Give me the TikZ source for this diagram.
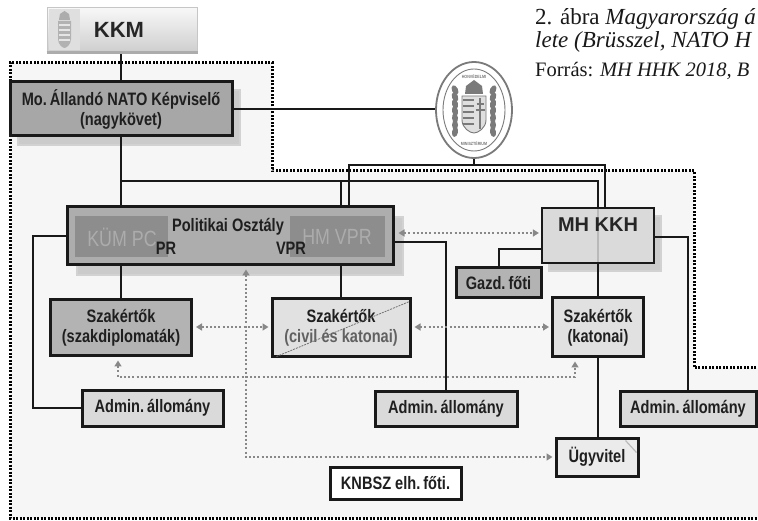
\documentclass[tikz,border=0pt]{standalone}
\usepackage{fontspec}
\setmainfont[FakeStretch=0.81]{Liberation Sans}
\newfontfamily\widesans{Liberation Sans}
\newfontfamily\capserif{Liberation Serif}
\usetikzlibrary{arrows.meta,calc,shapes.geometric}
\pgfdeclarelayer{back}
\pgfdeclarelayer{wires}
\pgfsetlayers{back,wires,main}
\definecolor{bgregion}{HTML}{F6F6F6}
\definecolor{mofill}{HTML}{A7A7A7}
\definecolor{polfill}{HTML}{ADADAD}
\definecolor{polsub}{HTML}{8D8D8D}
\definecolor{ghosttext}{HTML}{ACACAC}
\definecolor{darkfill}{HTML}{B3B3B3}
\definecolor{lightfill}{HTML}{E1E1E1}
\definecolor{adminfill}{HTML}{DADADA}
\definecolor{ugyfill}{HTML}{EBEBEB}
\definecolor{shadowfill}{HTML}{CBCBCB}
\definecolor{dotgray}{HTML}{888888}
\definecolor{sealgray}{HTML}{7A7A7A}
\tikzset{
  box/.style={draw=black!90, line width=3pt, inner sep=0pt, align=center,
    font=\bfseries\fontsize{18}{20}\selectfont, text=black!88},
  conn/.style={line width=2pt, draw=black!90},
  dotconn/.style={line width=2.4pt, draw=dotgray, dash pattern=on 2pt off 2.2pt},
  tipboth/.style={{Triangle[width=7pt,length=6pt,fill=dotgray]}-{Triangle[width=7pt,length=6pt,fill=dotgray]}},
  shadowbox/.style={fill=shadowfill, draw=gray!35, line width=1.5pt},
  regionline/.style={line width=3pt, draw=black, dash pattern=on 2pt off 1.5pt},
  ghost/.style={font=\fontsize{22}{22}\selectfont, text=ghosttext, inner sep=0pt},
  lbl/.style={font=\bfseries\fontsize{18}{20}\selectfont, text=black!88, inner sep=0pt},
  capt/.style={anchor=base west, inner sep=0pt, text=black!90},
  sealtext/.style={font=\bfseries\fontsize{4.5}{5}\selectfont, text=sealgray, inner sep=0pt},
}
\begin{document}
\begin{tikzpicture}[x=1pt,y=-1pt]
\useasboundingbox (0,0) rectangle (758,521);
\clip (0,0) rectangle (758,521);

\begin{pgfonlayer}{back}
\fill[white] (0,0) rectangle (758,521);
% region
\fill[bgregion] (10,63) -- (272,63) -- (272,171) -- (694,171) -- (694,368) -- (770,368) -- (770,518) -- (10,518) -- cycle;
\draw[regionline] (770,368) -- (694,368) -- (694,171) -- (272,171) -- (272,63) -- (10,63) -- (10,518) -- (770,518);
% shadows
\draw[shadowbox] (18,90) rectangle (240,145);
\draw[shadowbox] (77,217) rectangle (403,275);
\draw[shadowbox] (549,216) rectangle (661,271);
\end{pgfonlayer}

% KKM box
\node[draw=gray!45, line width=1pt, top color=gray!6, bottom color=gray!38, minimum width=150, minimum height=44, inner sep=0pt] (kkm) at (122,30) {};
\draw[gray!65, line width=2.5pt] (kkm.south west) -- (kkm.south east);
\fill[gray!25] (48.5,9.5) rectangle (80,50.5);
\fill[gray!60] (58,21) -- (71,21) -- (71,39) .. controls (71,45) and (66,48) .. (64.5,48) .. controls (63,48) and (58,45) .. (58,39) -- cycle;
\foreach \yy in {25,30,35,40} { \draw[white!80!gray, line width=1.5pt] (59,\yy) -- (70,\yy); }
\fill[gray!65] (59,20) -- (60,14) -- (64.5,11) -- (69,14) -- (70,20) -- cycle;
\node[font=\widesans\bfseries\fontsize{22}{22}\selectfont, text=black!85, inner sep=0pt] (kkmtext) at (119,30) {KKM};

% seal
\node[ellipse, draw=sealgray, line width=1.8pt, fill=white, minimum width=76, minimum height=96, inner sep=0pt] (seal) at (474,110) {};
\draw[sealgray, line width=0.9pt] (seal.center) ellipse [x radius=31, y radius=41];
\node[sealtext] (sealtop) at (474,77) {HONVÉDELMI};
\node[sealtext] (sealbot) at (474,144) {MINISZTÉRIUM};
\fill[sealgray] (465,94) -- (466,86) -- (470,83) -- (474,80) -- (478,83) -- (482,86) -- (483,94) -- cycle;
\fill[gray!25] (462,96) -- (486,96) -- (486,120) .. controls (486,128) and (478,133) .. (474,133) .. controls (470,133) and (462,128) .. (462,120) -- cycle;
\draw[sealgray, line width=0.9pt] (462,96) -- (486,96) -- (486,120) .. controls (486,128) and (478,133) .. (474,133) .. controls (470,133) and (462,128) .. (462,120) -- cycle;
\foreach \yy in {100,106,112,118,124} { \draw[sealgray, line width=2.4pt] (463,\yy) -- (473.5,\yy); }
\draw[sealgray, line width=2.2pt] (480,98) -- (480,129);
\draw[sealgray, line width=1.8pt] (476.5,104) -- (483.5,104) (475.5,110) -- (484.5,110);
\foreach \a/\yy in {25/90,20/97,15/104,10/111,5/118,0/125,-10/132} {
  \fill[sealgray, rotate around={\a:(455,\yy)}] (455,\yy) ellipse [x radius=3, y radius=5];
  \fill[sealgray, rotate around={-\a:(493,\yy)}] (493,\yy) ellipse [x radius=3, y radius=5];
}

% boxes
\node[box, fill=mofill, minimum width=222, minimum height=54] (mo) at (121,109) {Mo.\,Állandó NATO Képviselő\\(nagykövet)};
\node[box, line width=2.2pt, fill=adminfill, minimum width=112, minimum height=55] (mhkkh) at (598,235.5) {};
\node[box, fill=polfill, minimum width=326, minimum height=58] (pol) at (230,236) {};
\node[box, fill=darkfill, minimum width=141, minimum height=56] (szakdipl) at (121,328) {Szakértők\\(szakdiplomaták)};
\node[box, fill=lightfill, minimum width=138, minimum height=58] (civil) at (341,328) {Szakértők\\\textcolor{black!62}{(civil és katonai)}};
\node[box, fill=lightfill, minimum width=91, minimum height=59] (katonai) at (598,327.5) {Szakértők\\(katonai)};
\node[box, fill=darkfill, minimum width=85, minimum height=30] (gazd) at (498.5,283) {Gazd.\,főti};
\node[box, fill=adminfill, minimum width=141, minimum height=36] (adminL) at (152.5,408) {Admin.\,állomány};
\node[box, fill=adminfill, minimum width=142, minimum height=35] (adminM) at (446,408.5) {Admin.\,állomány};
\node[box, fill=adminfill, minimum width=136, minimum height=35] (adminR) at (688,408.5) {Admin.\,állomány};
\node[box, fill=ugyfill, minimum width=82, minimum height=38] (ugy) at (597,457) {Ügyvitel};
\node[box, fill=white, minimum width=131, minimum height=32] (knbsz) at (395.5,483) {KNBSZ elh.\,főti.};

% inside Politikai box
\fill[polsub] (75,216) rectangle (168,257);
\fill[polsub] (290,216) rectangle (385,257);
\node[ghost] (kumpc) at (122,237) {KÜM PC};
\node[ghost] (hmvpr) at (337,237) {HM VPR};
\node[lbl] (poltitle) at (228,227) {Politikai Osztály};
\node[lbl] (pr) at (166,248) {PR};
\node[lbl] (vpr) at (291,248) {VPR};

% inside MH KKH
\draw[gray!55, line width=1.2pt] ($(mhkkh.north)+(0,2)$) -- ($(mhkkh.south)+(0,-2)$);
\node[font=\widesans\bfseries\fontsize{20}{20}\selectfont, text=black!85, inner sep=0pt] (mhtext) at (598,225) {MH KKH};

% civil diagonal and Ügyvitel dog-ear
\draw[black!55, line width=0.8pt, dash pattern=on 2pt off 1pt] ($(civil.south west)+(6,-2)$) -- ($(civil.north east)+(-2,4)$);
\draw[gray!55, line width=1.2pt] ($(ugy.north east)+(-14,4)$) -- ($(ugy.north east)+(-3,16)$);

% coordinates
\coordinate (busA) at (0,181);
\coordinate (busB) at (0,165);
\coordinate (leftbus) at (33,0);
\coordinate (dbus) at (0,377);
\coordinate (polB) at ($(pol.north east)+(-46,0)$);
\coordinate (mhB) at ($(mhkkh.north)+(7,0)$);
\coordinate (polR) at ($(pol.east)+(0,6)$);
\coordinate (mhL) at ($(mhkkh.west)+(0,14)$);
\coordinate (mhR) at ($(mhkkh.east)+(0,1.5)$);

\begin{pgfonlayer}{wires}
\draw[conn] (mo.north |- kkm.south) -- (mo.north);
\draw[conn] (mo.east) -- (mo.east -| seal.west);
\draw[conn] (mo.south) -- (pol.north -| mo.south);
\draw[conn] (mo.south |- busA) -| (mhkkh.north);
\draw[conn] (civil.north |- busA) -- (pol.north -| civil.north);
\draw[conn] (seal.south) -- (seal.south |- busB);
\draw[conn] (polB) |- (seal.south |- busB) -| (mhB);
\draw[conn] (pol.south -| szakdipl.north) -- (szakdipl.north);
\draw[conn] (pol.south -| civil.north) -- (civil.north);
\draw[conn] (pol.west) -| (leftbus |- adminL.west) -- (adminL.west);
\draw[conn] (polR) -| (adminM.north);
\draw[conn] (mhL) -| (gazd.north);
\draw[conn] (mhR) -| (adminR.north);
\draw[conn] (mhkkh.south) -- (katonai.north);
\draw[conn] (katonai.south) -- (katonai.south |- ugy.north);
\end{pgfonlayer}

% dotted arrows
\draw[dotconn, tipboth] ($(pol.east)+(4,-3)$) -- ($(mhkkh.west)+(-2,-2.5)$);
\draw[dotconn, tipboth] ($(szakdipl.east)+(3,-1)$) -- ($(civil.west)+(-2,-1)$);
\draw[dotconn, tipboth] ($(civil.east)+(3,-1)$) -- ($(katonai.west)+(-2,-0.5)$);
\coordinate (sL) at ($(szakdipl.south)+(-3,3)$);
\coordinate (kL) at ($(katonai.south)+(-23,3)$);
\draw[dotconn, tipboth] (sL) |- (kL |- dbus) -- (kL);
\coordinate (pB) at ($(pol.south)+(16,3)$);
\draw[dotconn, tipboth] (pB) |- ($(ugy.west)+(-2,0)$);

% caption
\node[capt, font=\capserif\fontsize{23}{23}\selectfont] (cap1) at (535,25) {2. ábra \textit{Magyarország á}};
\node[capt, font=\capserif\fontsize{23}{23}\selectfont] (cap2) at (535,48) {\textit{lete (Brüsszel, NATO H}};
\node[capt, font=\capserif\fontsize{20.5}{21}\selectfont] (cap3) at (535,77) {Forrás: \textit{MH HHK 2018, B}};
\end{tikzpicture}
\end{document}
